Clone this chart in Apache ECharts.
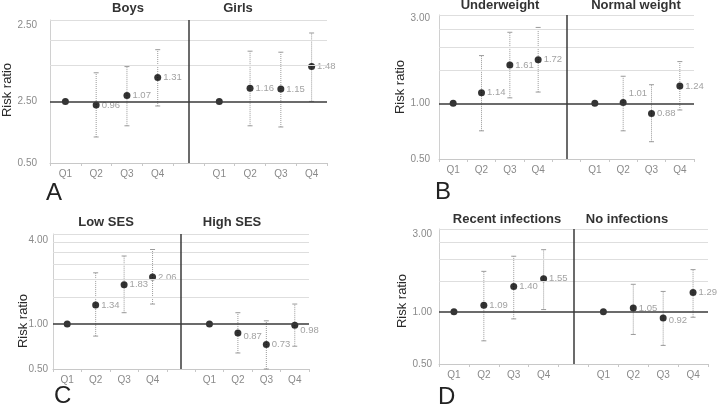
<!DOCTYPE html>
<html><head><meta charset="utf-8">
<script src="https://cdn.jsdelivr.net/npm/echarts@6/dist/echarts.min.js"></script>
<style>html,body{margin:0;padding:0;background:#fff}#c{width:720px;height:407px}</style>
</head><body><div id="c"></div>
<script>
const quartiles = ['Q1','Q2','Q3','Q4','','Q1','Q2','Q3','Q4'];

// Panel A
const boysRR = [1.00, 0.96, 1.07, 1.31];
const boysLow = [null, 0.67, 0.76, 0.95];
const boysHigh = [null, 1.38, 1.48, 1.79];
const girlsRR = [1.00, 1.16, 1.15, 1.48];
const girlsLow = [null, 0.76, 0.75, 1.00];
const girlsHigh = [null, 1.76, 1.74, 2.16];
// Panel B
const underRR = [1.00, 1.14, 1.61, 1.72];
const underLow = [null, 0.71, 1.07, 1.15];
const underHigh = [null, 1.81, 2.42, 2.57];
const normalRR = [1.00, 1.01, 0.88, 1.24];
const normalLow = [null, 0.71, 0.62, 0.92];
const normalHigh = [null, 1.40, 1.26, 1.68];
// Panel C
const lowSesRR = [1.00, 1.34, 1.83, 2.06];
const lowSesLow = [null, 0.83, 1.19, 1.36];
const lowSesHigh = [null, 2.20, 2.85, 3.15];
const highSesRR = [1.00, 0.87, 0.73, 0.98];
const highSesLow = [null, 0.64, 0.50, 0.71];
const highSesHigh = [null, 1.19, 1.05, 1.36];
// Panel D
const recentRR = [1.00, 1.09, 1.40, 1.55];
const recentLow = [null, 0.68, 0.91, 1.03];
const recentHigh = [null, 1.71, 2.09, 2.28];
const noInfRR = [1.00, 1.05, 0.92, 1.29];
const noInfLow = [null, 0.74, 0.64, 0.93];
const noInfHigh = [null, 1.44, 1.31, 1.75];

// Y tick values and their printed labels
const yTicksA = [0.5, 1.0, 2.5];  const yTickLabelsA = ['0.50', '2.50', '2.50'];
const yTicksB = [0.5, 1.0, 3.0];  const yTickLabelsB = ['0.50', '1.00', '3.00'];
const yTicksC = [0.5, 1.0, 4.0];  const yTickLabelsC = ['0.50', '1.00', '4.00'];
const yTicksD = [0.5, 1.0, 3.0];  const yTickLabelsD = ['0.50', '1.00', '3.00'];
// Horizontal gridline values
const gridValsA = [1.5, 2.0, 2.5];
const gridValsB = [1.5, 2.0, 2.5, 3.0];
const gridValsC = [1.5, 2.0, 2.5, 3.0, 3.5, 4.0];
const gridValsD = [1.5, 2.0, 2.5, 3.0];

const groupTitles = [['Boys', 'Girls'], ['Underweight', 'Normal weight'], ['Low SES', 'High SES'], ['Recent infections', 'No infections']];
const panelLetters = ['A', 'B', 'C', 'D'];
const yName = 'Risk ratio';

// ---- layout / style (not data) ----
const FONT = '"Liberation Sans", Arial, sans-serif';
const panels = [
  { grid: {left: 50, top: 20, width: 277, height: 143}, min: 0.5, max: 2.5,
    rr: [boysRR, girlsRR], lo: [boysLow, girlsLow], hi: [boysHigh, girlsHigh],
    ticks: yTicksA, tickLabels: yTickLabelsA, gv: gridValsA, lblGap: 13, topOff: 5,
    titlePos: [[128, 8], [238, 8]], yNamePos: [7, 90], letterPos: [46, 193], lblOffsets: {} },
  { grid: {left: 439, top: 15, width: 255, height: 144}, min: 0.5, max: 3.0,
    rr: [underRR, normalRR], lo: [underLow, normalLow], hi: [underHigh, normalHigh],
    ticks: yTicksB, tickLabels: yTickLabelsB, gv: gridValsB, lblGap: 9, topOff: 3,
    titlePos: [[500, 5], [636, 5]], yNamePos: [400, 87], letterPos: [435, 192], lblOffsets: {'1-1': [0, -9]} },
  { grid: {left: 53, top: 234, width: 256, height: 135}, min: 0.5, max: 4.0,
    rr: [lowSesRR, highSesRR], lo: [lowSesLow, highSesLow], hi: [lowSesHigh, highSesHigh],
    ticks: yTicksC, tickLabels: yTickLabelsC, gv: gridValsC, lblGap: 5, topOff: 6,
    titlePos: [[106, 222], [232, 222]], yNamePos: [23, 321], letterPos: [54, 396], lblOffsets: {'1-1': [0, 3], '1-3': [0, 5]} },
  { grid: {left: 439, top: 229, width: 269, height: 135}, min: 0.5, max: 3.0,
    rr: [recentRR, noInfRR], lo: [recentLow, noInfLow], hi: [recentHigh, noInfHigh],
    ticks: yTicksD, tickLabels: yTickLabelsD, gv: gridValsD, lblGap: 7, topOff: 5,
    titlePos: [[507, 219], [627, 219]], yNamePos: [402, 301], letterPos: [438, 397], lblOffsets: {'1-2': [0, 2]} }
];

const option = {
  animation: false,
  backgroundColor: '#fff',
  grid: [], xAxis: [], yAxis: [], series: []
};

panels.forEach((p, i) => {
  option.grid.push(Object.assign({containLabel: false}, p.grid));
  option.xAxis.push({
    type: 'category', gridIndex: i, data: quartiles, boundaryGap: true,
    axisLine: {show: true, lineStyle: {color: '#c8c8c8', width: 1}},
    axisTick: {show: true, length: 3, lineStyle: {color: '#c8c8c8'}},
    axisLabel: {color: '#8a8a8a', fontSize: 10, fontFamily: FONT, margin: 6, interval: 0},
    splitLine: {show: false}
  });
  option.yAxis.push({
    type: 'log', gridIndex: i, min: p.min, max: p.max, logBase: 10,
    axisLine: {show: true, lineStyle: {color: '#d0d0d0', width: 1}},
    axisTick: {show: false}, axisLabel: {show: false}, splitLine: {show: false}
  });

  // reference lines
  const ml = [];
  p.gv.forEach(v => ml.push({yAxis: v, lineStyle: {color: '#dedede', width: 1, type: 'solid'}}));
  ml.push({yAxis: 1.0, lineStyle: {color: '#3a3a3a', width: 1.5, type: 'solid'}});
  ml.push({xAxis: 4, lineStyle: {color: '#3a3a3a', width: 1.5, type: 'solid'}});
  option.series.push({
    type: 'line', xAxisIndex: i, yAxisIndex: i, data: [], z: 1, silent: true,
    markLine: {symbol: 'none', silent: true, label: {show: false}, animation: false, data: ml}
  });

  // error bars
  const eb = [];
  [0, 1].forEach(g => {
    p.rr[g].forEach((v, q) => {
      if (p.lo[g][q] != null) eb.push([g * 5 + q, p.lo[g][q], p.hi[g][q]]);
    });
  });
  option.series.push({
    type: 'custom', xAxisIndex: i, yAxisIndex: i, z: 2, silent: true,
    encode: {x: 0, y: [1, 2]}, data: eb,
    renderItem: (params, api) => {
      const x = api.value(0);
      const a = api.coord([x, api.value(1)]);
      const b = api.coord([x, api.value(2)]);
      const c = 2.5;
      const st = {stroke: '#9a9a9a', lineWidth: 1};
      return {type: 'group', children: [
        {type: 'line', shape: {x1: a[0], y1: a[1], x2: b[0], y2: b[1]}, style: Object.assign({lineDash: [1, 1]}, st)},
        {type: 'line', shape: {x1: a[0] - c, y1: a[1], x2: a[0] + c, y2: a[1]}, style: st},
        {type: 'line', shape: {x1: b[0] - c, y1: b[1], x2: b[0] + c, y2: b[1]}, style: st}
      ]};
    }
  });

  // points
  const pts = [];
  [0, 1].forEach(g => {
    p.rr[g].forEach((v, q) => {
      const off = p.lblOffsets[g + '-' + q] || [0, 0];
      pts.push({value: [g * 5 + q, v], label: {show: q !== 0, offset: off}});
    });
  });
  option.series.push({
    type: 'scatter', xAxisIndex: i, yAxisIndex: i, z: 3, symbol: 'circle', symbolSize: 7,
    itemStyle: {color: '#000'}, data: pts,
    label: {position: 'right', distance: 2, color: '#8a8a8a', fontSize: 9.5, fontFamily: FONT,
            formatter: prm => prm.value[1].toFixed(2)}
  });
});

const chart = echarts.init(document.getElementById('c'), null, {renderer: 'canvas'});
chart.setOption(option);

const graphics = [];
panels.forEach((p, i) => {
  // y tick labels placed through the axis scale
  p.ticks.forEach((v, j) => {
    let y = chart.convertToPixel({yAxisIndex: i}, v);
    if (j === p.ticks.length - 1) y += p.topOff;
    graphics.push({type: 'text', x: p.grid.left - p.lblGap, y: y, silent: true,
      style: {text: p.tickLabels[j], align: 'right', verticalAlign: 'middle', fill: '#8a8a8a', fontSize: 10, fontFamily: FONT}});
  });
  // group titles
  p.titlePos.forEach((pos, g) => {
    graphics.push({type: 'text', x: pos[0], y: pos[1], silent: true,
      style: {text: groupTitles[i][g], align: 'center', verticalAlign: 'middle', fill: '#333', fontSize: 13, fontWeight: 'bold', fontFamily: FONT}});
  });
  // y-axis name
  graphics.push({type: 'text', x: p.yNamePos[0], y: p.yNamePos[1], rotation: Math.PI / 2, silent: true,
    style: {text: yName, align: 'center', verticalAlign: 'middle', fill: '#2a2a2a', fontSize: 13, fontFamily: FONT}});
  // panel letter
  graphics.push({type: 'text', x: p.letterPos[0], y: p.letterPos[1], silent: true,
    style: {text: panelLetters[i], align: 'left', verticalAlign: 'middle', fill: '#222', fontSize: 24, fontFamily: FONT}});
});
chart.setOption({graphic: graphics});
</script></body></html>
